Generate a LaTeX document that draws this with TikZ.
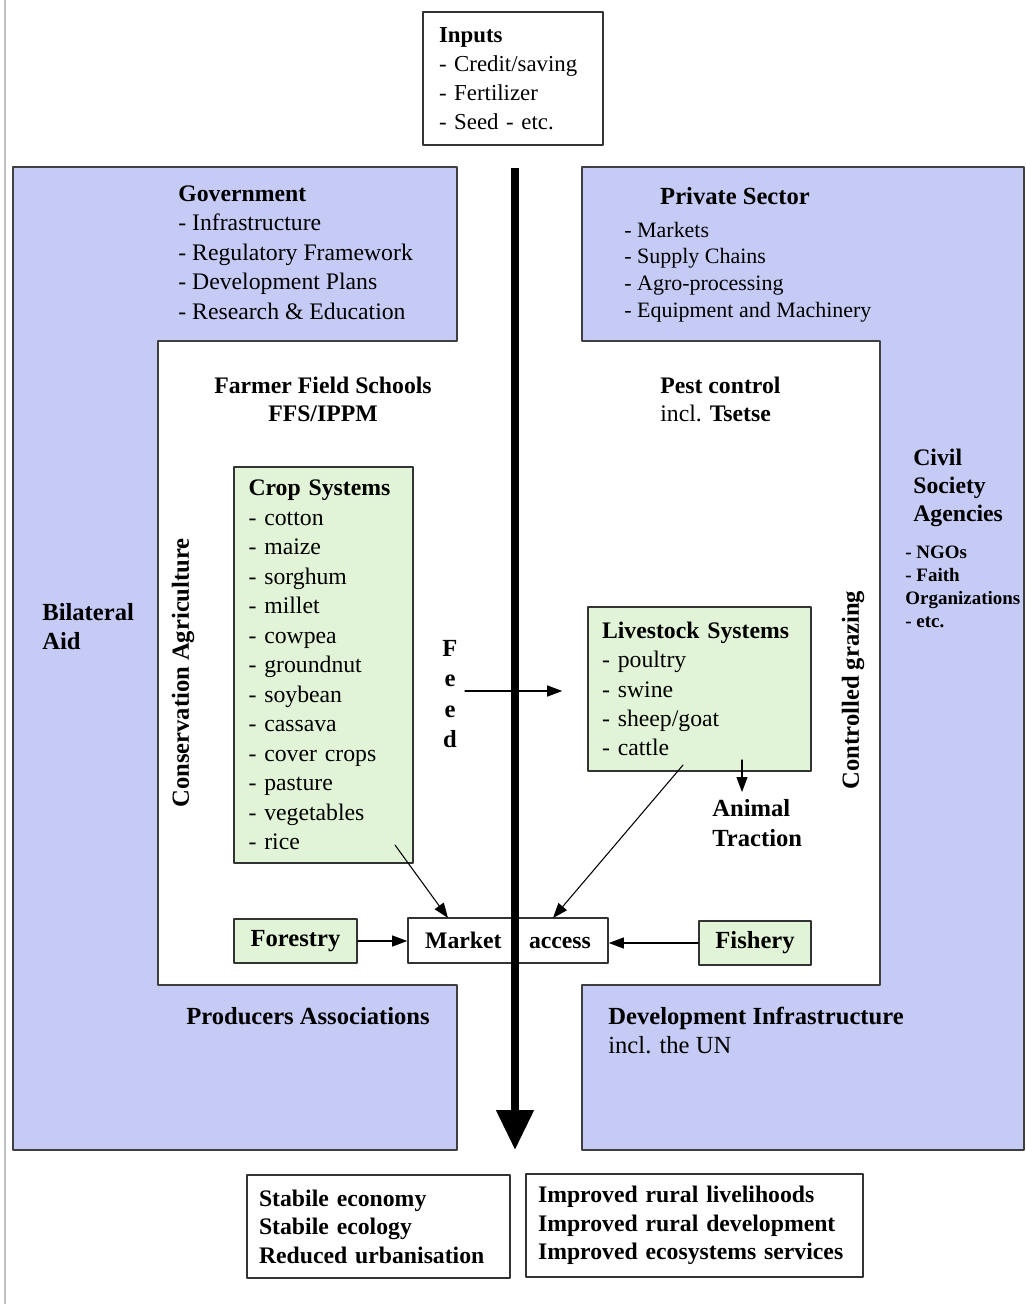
\documentclass[tikz,border=0pt]{standalone}
\usepackage{fontspec}
\setmainfont{Liberation Serif}
\usetikzlibrary{arrows.meta}
\definecolor{aidblue}{RGB}{198,203,246}
\definecolor{cropgreen}{RGB}{226,244,215}
\begin{document}
\begin{tikzpicture}[x=0.02cm,y=-0.02cm,line cap=round,line join=round,
    txt/.style={inner sep=0pt,align=left,font=\fontsize{13.5}{16.8}\selectfont},
    hd/.style={txt,font=\fontsize{14}{16.8}\selectfont\bfseries},
    box/.style={draw=black!80,line width=0.9pt,inner sep=0pt,align=left},
    arr/.style={-{Triangle[length=0.3cm,width=0.22cm]},line width=0.6pt}]
  \useasboundingbox (0,0) rectangle (1025,1304);
  \fill[white] (0,0) rectangle (1025,1304);
  \draw[black!25,line width=1pt] (5,0) -- (5,1304);
  % the two blue frames round the white field
  \filldraw[fill=aidblue,draw=black!75,line width=1pt] (13,167) -- (457,167) -- (457,341) -- (158,341) -- (158,985) -- (457,985) -- (457,1150) -- (13,1150) -- cycle;
  \filldraw[fill=aidblue,draw=black!75,line width=1pt] (582,167) -- (1024,167) -- (1024,1150) -- (582,1150) -- (582,985) -- (880,985) -- (880,341) -- (582,341) -- cycle;
  % top
  \node[box,minimum width=3.6cm,minimum height=2.66cm,text width=2.96cm,font=\fontsize{13}{16.4}\selectfont] (inputs) at (513,78.5) {\textbf{Inputs}\\- Credit/saving\\- Fertilizer\\- Seed - etc.};
  \node[txt,anchor=west] (gov) at (178,252.5) {\textbf{Government}\\- Infrastructure\\- Regulatory Framework\\- Development Plans\\- Research \& Education};
  \node[hd] (privhd) at (735,196) {Private Sector};
  \node[txt,anchor=west,font=\fontsize{12.5}{15.1}\selectfont] (priv) at (624,272) {- Markets\\- Supply Chains\\- Agro-processing\\- Equipment and Machinery};
  % side labels
  \node[hd,anchor=west,font=\fontsize{14}{16.4}\selectfont\bfseries] (bilat) at (42,626.5) {Bilateral\\Aid};
  \node[hd,anchor=west,font=\fontsize{13.5}{15.9}\selectfont\bfseries] (civil) at (913,488) {Civil\\Society\\Agencies};
  \node[txt,anchor=west,font=\fontsize{10.8}{13.2}\selectfont\bfseries] (ngo) at (905,587) {- NGOs\\- Faith\\Organizations\\- etc.};
  % white field
  \node[hd,align=center,font=\fontsize{13.5}{15.9}\selectfont\bfseries] (ffs) at (323,399) {Farmer Field Schools\\FFS/IPPM};
  \node[txt,anchor=west,font=\fontsize{13.5}{16.4}\selectfont] (pest) at (660,399.5) {\textbf{Pest control}\\incl. \textbf{Tsetse}};
  \node[hd,rotate=90] (consag) at (183,673) {Conservation Agriculture};
  \node[hd,rotate=90] (graze) at (853,690) {Controlled grazing};
  \node[box,fill=cropgreen,minimum width=3.58cm,minimum height=7.92cm,text width=3.0cm,font=\fontsize{13.5}{16.8}\selectfont] (crop) at (323.5,665) {\textbf{Crop Systems}\\- cotton\\- maize\\- sorghum\\- millet\\- cowpea\\- groundnut\\- soybean\\- cassava\\- cover crops\\- pasture\\- vegetables\\- rice};
  \node[box,fill=cropgreen,minimum width=4.46cm,minimum height=3.28cm,text width=3.9cm,font=\fontsize{13.5}{16.7}\selectfont] (live) at (699.5,689) {\textbf{Livestock Systems}\\- poultry\\- swine\\- sheep/goat\\- cattle};
  \node[hd,align=center,font=\fontsize{14}{17.2}\selectfont\bfseries] (feed) at (450,694) {F\\e\\e\\d};
  \node[hd,anchor=west,font=\fontsize{14}{17}\selectfont\bfseries] (traction) at (712,823) {Animal\\Traction};
  \node[box,minimum width=4cm,minimum height=0.9cm,font=\fontsize{13.5}{16}\selectfont\bfseries] (market) at (508,940.5) {Market\hspace{0.55cm}access};
  \node[box,fill=cropgreen,minimum width=2.46cm,minimum height=0.88cm,font=\fontsize{14}{16}\selectfont\bfseries] (forest) at (295.5,941) {Forestry};
  \node[box,fill=cropgreen,minimum width=2.24cm,minimum height=0.88cm,font=\fontsize{14}{16}\selectfont\bfseries] (fish) at (755,943) {Fishery};
  % lower blue labels
  \node[hd] (prod) at (308,1016) {Producers Associations};
  \node[txt,anchor=west,font=\fontsize{14}{16.4}\selectfont] (devinf) at (608,1030.5) {\textbf{Development Infrastructure}\\incl. the UN};
  % results
  \node[box,minimum width=5.26cm,minimum height=2.06cm,text width=4.78cm,font=\fontsize{13.5}{16.2}\selectfont\bfseries] (econ) at (378.5,1226.5) {Stabile economy\\Stabile ecology\\Reduced urbanisation};
  \node[box,minimum width=6.74cm,minimum height=2.06cm,text width=6.26cm,font=\fontsize{13.5}{16.2}\selectfont\bfseries] (rural) at (694.5,1225.5) {Improved rural livelihoods\\Improved rural development\\Improved ecosystems services};
  % connectors
  \coordinate (feedout) at (465,691);
  \coordinate (cropout) at (395,845);
  \coordinate (liveout) at (683,765);
  \coordinate (tract) at (742,760);
  \coordinate (mkta) at (448,918);
  \coordinate (mktb) at (553,918);
  \draw[arr,shorten >=0.5cm] (feedout) -- (feedout -| live.west);
  \draw[arr,shorten >=4pt] (tract) -- (tract |- traction.north);
  \draw[arr] (cropout) -- (mkta);
  \draw[arr] (liveout) -- (mktb);
  \draw[arr] (forest.east) -- (forest.east -| market.west);
  \draw[arr] (fish.west) -- (fish.west -| market.east);
  % main flow
  \coordinate (flowtop) at (515,168);
  \coordinate (flowend) at (515,1150);
  \draw[line cap=butt,line width=4.5pt,-{Triangle[length=0.8cm,width=0.72cm]}] (flowtop) -- (flowend);
\end{tikzpicture}
\end{document}
